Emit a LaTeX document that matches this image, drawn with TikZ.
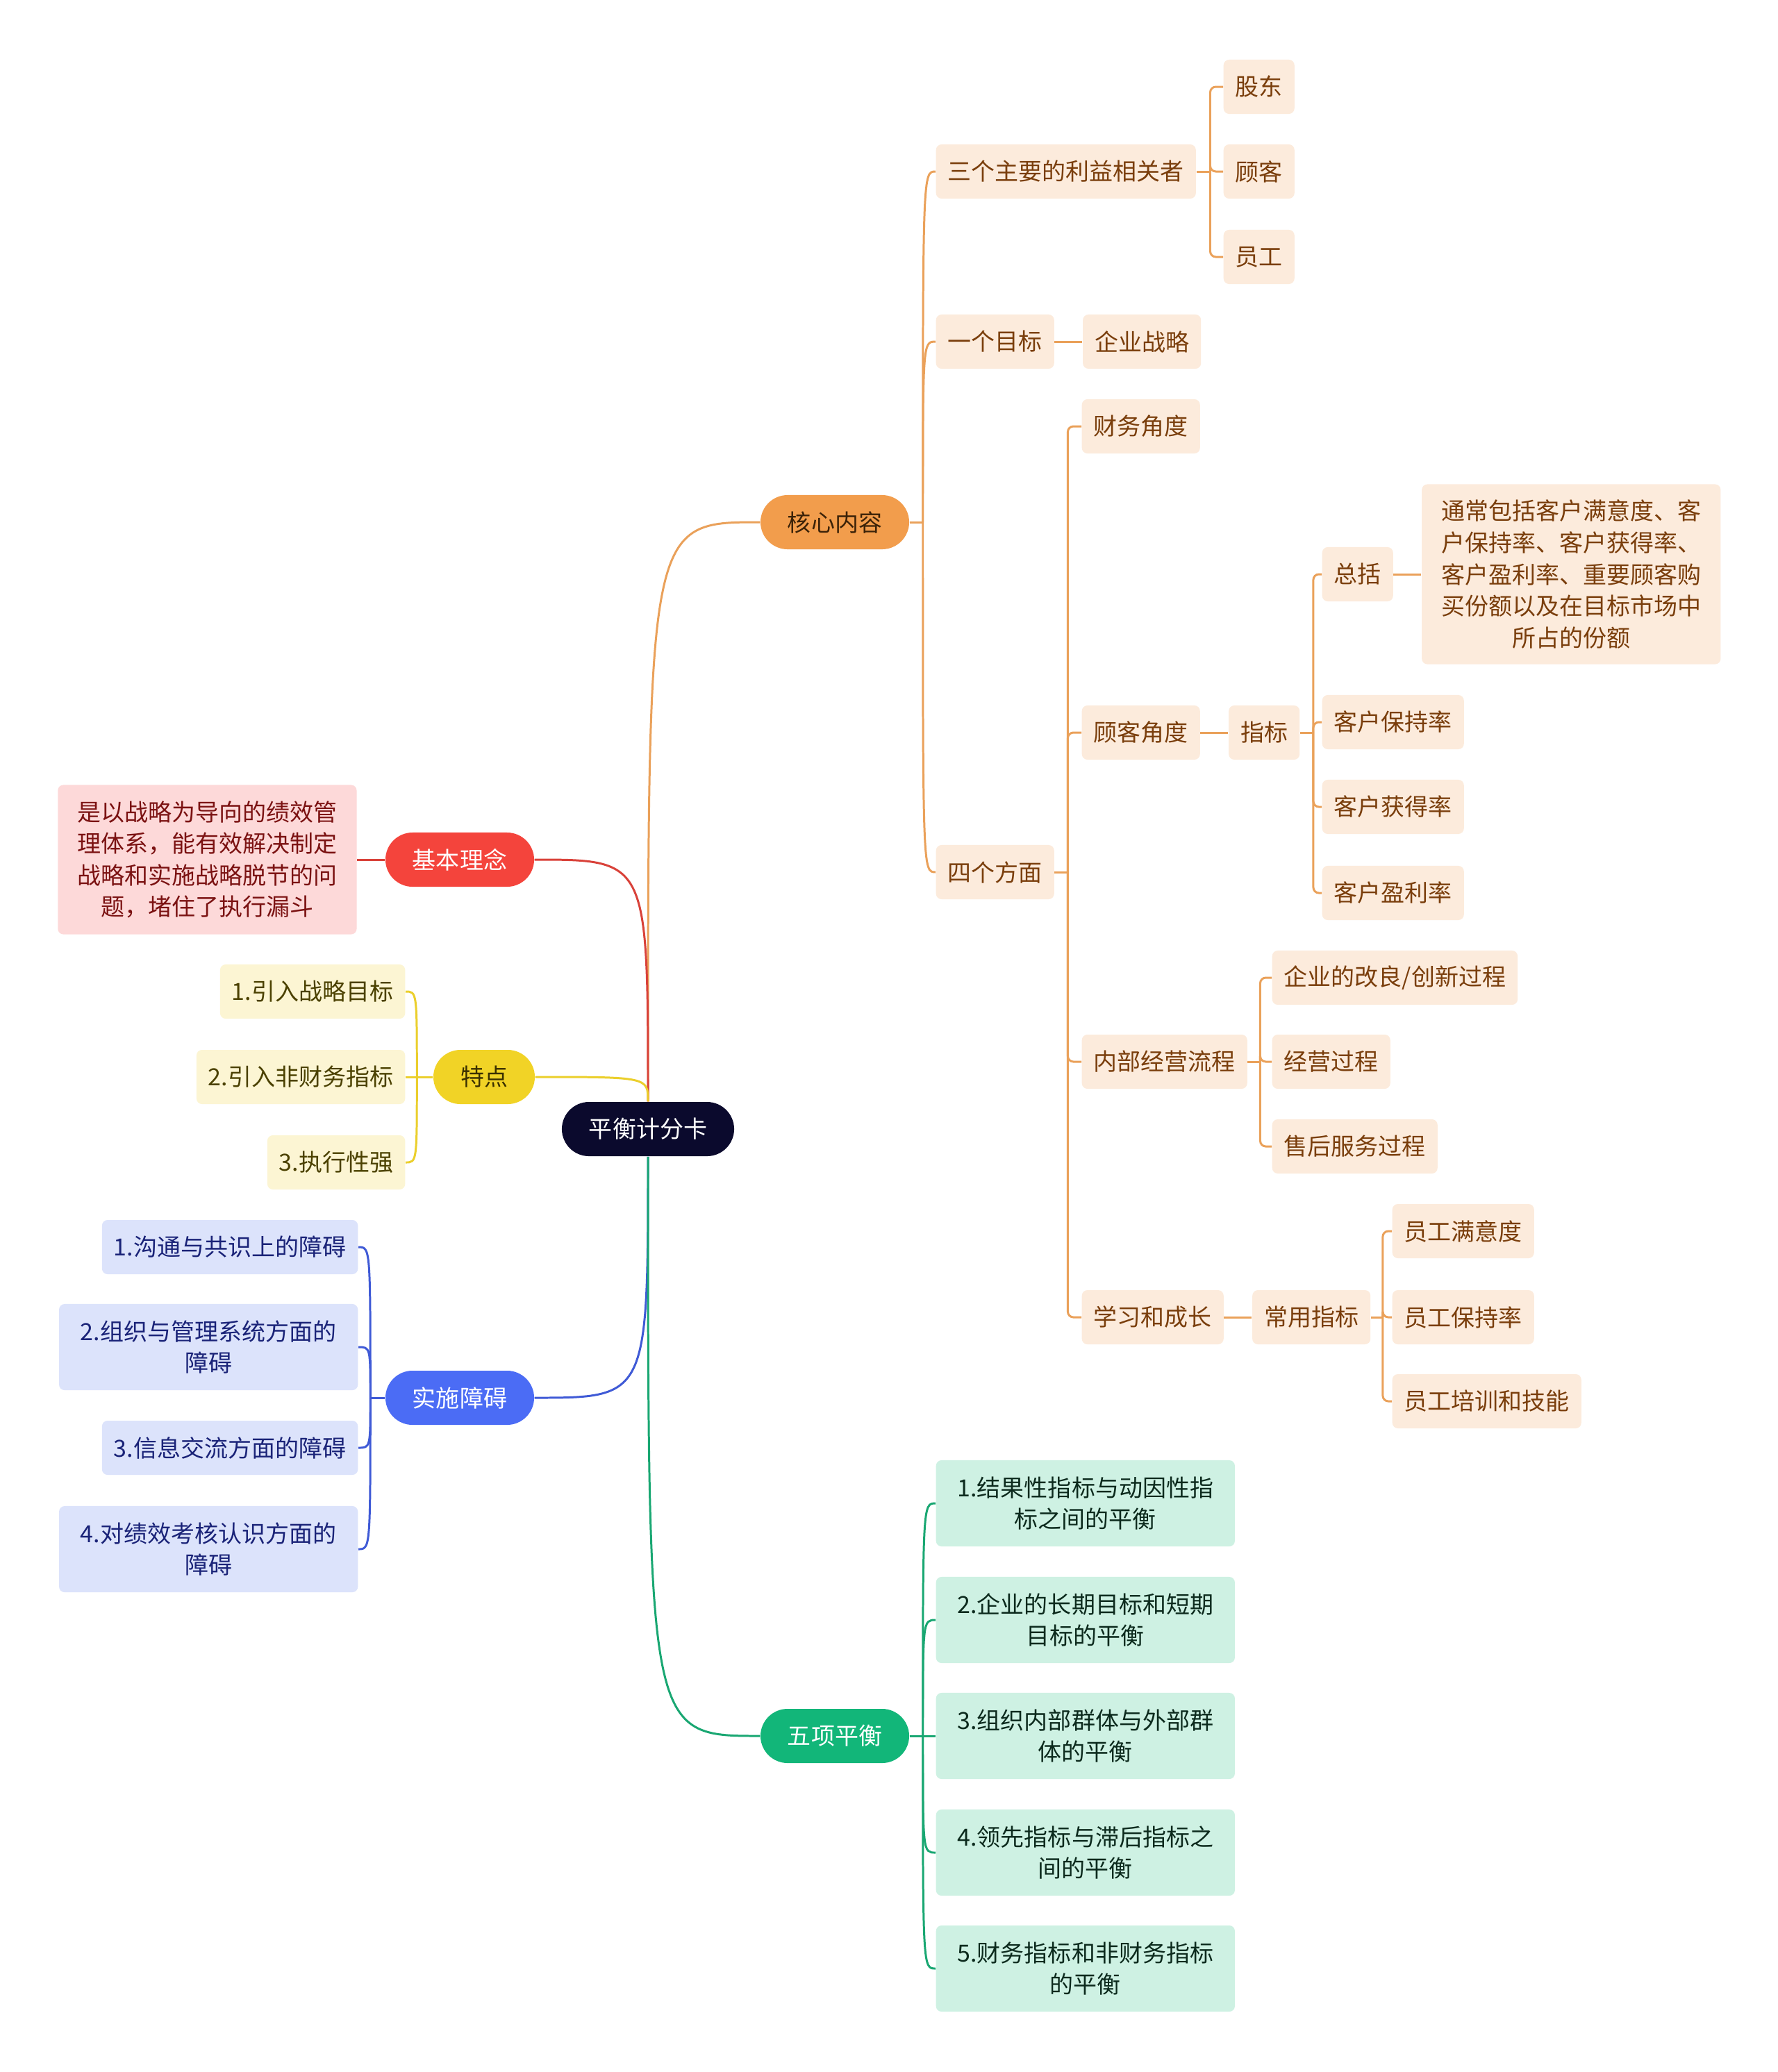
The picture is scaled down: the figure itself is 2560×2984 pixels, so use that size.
\documentclass[tikz,border=0pt]{standalone}
\usepackage{fontspec}
\usepackage{xcolor}
\usepackage{tikz}
\usetikzlibrary{positioning}

\newfontfamily\cjk{Noto Sans CJK SC}
\newcommand{\mapfont}{\cjk\fontsize{9.67pt}{12.95pt}\selectfont}

\definecolor{rootfill}{HTML}{0B0A2D}
\definecolor{orMain}{HTML}{F29D4C}
\definecolor{orDark}{HTML}{3B2208}
\definecolor{orLight}{HTML}{FCEBDC}
\definecolor{orText}{HTML}{7A3E0C}
\definecolor{orLine}{HTML}{EAA15A}
\definecolor{rdMain}{HTML}{F4443C}
\definecolor{rdLight}{HTML}{FDD9D9}
\definecolor{rdText}{HTML}{7B1212}
\definecolor{rdLine}{HTML}{D9423A}
\definecolor{ylMain}{HTML}{F1D326}
\definecolor{ylDark}{HTML}{3A3000}
\definecolor{ylLight}{HTML}{FCF5D3}
\definecolor{ylText}{HTML}{4B4100}
\definecolor{ylLine}{HTML}{EBCF2C}
\definecolor{blMain}{HTML}{4B6CF5}
\definecolor{blLight}{HTML}{DCE3FB}
\definecolor{blText}{HTML}{1A2378}
\definecolor{blLine}{HTML}{3F5AD6}
\definecolor{gnMain}{HTML}{12B679}
\definecolor{gnLight}{HTML}{CEF1E3}
\definecolor{gnText}{HTML}{0C2A1D}
\definecolor{gnLine}{HTML}{19A772}

\begin{document}
\begin{tikzpicture}[
    x=0.01cm, y=-0.01cm,
    node distance=0.4cm,
    pill/.style={rectangle, rounded corners=0.39cm, minimum height=0.78cm, inner xsep=0.39cm, inner ysep=0pt, font=\mapfont},
    topic/.style={rectangle, rounded corners=0.08cm, minimum height=0.78cm, inner xsep=0.17cm, inner ysep=0.1cm, align=center, font=\mapfont},
    para/.style={minimum width=4.3cm},
    orsub/.style={topic, fill=orLight, text=orText},
    rdsub/.style={topic, fill=rdLight, text=rdText},
    ylsub/.style={topic, fill=ylLight, text=ylText},
    blsub/.style={topic, fill=blLight, text=blText},
    gnsub/.style={topic, fill=gnLight, text=gnText},
    link/.style={line width=0.85pt},
    elbow/.style={line width=0.85pt, rounded corners=0.08cm}
]

\path[use as bounding box, fill=white] (0,0) rectangle (2560,2984);

% Nodes
\node[pill, fill=rootfill, text=white] (root) at (933,1626) {平衡计分卡};

\node[pill, fill=orMain, text=orDark] (core) at (1202,752) {核心内容};
\node[pill, fill=rdMain, text=white] (idea) at (662,1238) {基本理念};
\node[pill, fill=ylMain, text=ylDark] (feat) at (697,1551) {特点};
\node[pill, fill=blMain, text=white] (block) at (662,2013) {实施障碍};
\node[pill, fill=gnMain, text=white] (five) at (1202,2500) {五项平衡};

% core content
\node[orsub, anchor=west] (stake) at (1347,247) {三个主要的利益相关者};
\node[orsub, anchor=west] (holder) at (1761,125) {股东};
\node[orsub, anchor=west] (client) at (1761,247) {顾客};
\node[orsub, anchor=west] (staff) at (1761,370) {员工};
\node[orsub, anchor=west] (goal) at (1347,492) {一个目标};
\node[orsub, right=of goal] (strategy) {企业战略};
\node[orsub, anchor=west] (aspects) at (1347,1256) {四个方面};
\node[orsub, anchor=west] (finance) at (1557,614) {财务角度};
\node[orsub, anchor=west] (custview) at (1557,1055) {顾客角度};
\node[orsub, right=of custview] (custidx) {指标};
\node[orsub, anchor=west] (summary) at (1903,827) {总括};
\node[orsub, para, minimum height=2.59cm, right=of summary] (summtext) {通常包括客户满意度、客\\户保持率、客户获得率、\\客户盈利率、重要顾客购\\买份额以及在目标市场中\\所占的份额};
\node[orsub, anchor=west] (retain) at (1903,1040) {客户保持率};
\node[orsub, anchor=west] (acquire) at (1903,1162) {客户获得率};
\node[orsub, anchor=west] (profit) at (1903,1286) {客户盈利率};
\node[orsub, anchor=west] (process) at (1557,1529) {内部经营流程};
\node[orsub, anchor=west] (innov) at (1831,1408) {企业的改良/创新过程};
\node[orsub, anchor=west] (operate) at (1831,1529) {经营过程};
\node[orsub, anchor=west] (service) at (1831,1651) {售后服务过程};
\node[orsub, anchor=west] (growth) at (1557,1897) {学习和成长};
\node[orsub, right=of growth] (common) {常用指标};
\node[orsub, anchor=west] (satisf) at (2004,1773) {员工满意度};
\node[orsub, anchor=west] (keep) at (2004,1897) {员工保持率};
\node[orsub, anchor=west] (train) at (2004,2018) {员工培训和技能};

% basic idea
\node[rdsub, para, minimum height=2.15cm, left=of idea] (ideatext) {是以战略为导向的绩效管\\理体系，能有效解决制定\\战略和实施战略脱节的问\\题，堵住了执行漏斗};

% features
\node[ylsub, anchor=east] (feat1) at (584,1428) {1.引入战略目标};
\node[ylsub, anchor=east] (feat2) at (584,1551) {2.引入非财务指标};
\node[ylsub, anchor=east] (feat3) at (584,1674) {3.执行性强};

% obstacles
\node[blsub, anchor=east] (block1) at (516,1796) {1.沟通与共识上的障碍};
\node[blsub, para, minimum height=1.24cm, anchor=east] (block2) at (516,1940) {2.组织与管理系统方面的\\障碍};
\node[blsub, anchor=east] (block3) at (516,2085) {3.信息交流方面的障碍};
\node[blsub, para, minimum height=1.24cm, anchor=east] (block4) at (516,2231) {4.对绩效考核认识方面的\\障碍};

% five balances
\node[gnsub, para, minimum height=1.24cm, anchor=west] (bal1) at (1347,2165) {1.结果性指标与动因性指\\标之间的平衡};
\node[gnsub, para, minimum height=1.24cm, anchor=west] (bal2) at (1347,2333) {2.企业的长期目标和短期\\目标的平衡};
\node[gnsub, para, minimum height=1.24cm, anchor=west] (bal3) at (1347,2500) {3.组织内部群体与外部群\\体的平衡};
\node[gnsub, para, minimum height=1.24cm, anchor=west] (bal4) at (1347,2668) {4.领先指标与滞后指标之\\间的平衡};
\node[gnsub, para, minimum height=1.24cm, anchor=west] (bal5) at (1347,2835) {5.财务指标和非财务指标\\的平衡};

% Edges
\draw[link, orLine] (root.north) .. controls (root.north |- core.west) .. (core.west);
\draw[link, rdLine] (root.north) .. controls (root.north |- idea.east) .. (idea.east);
\draw[link, ylLine] (root.north) .. controls (root.north |- feat.east) .. (feat.east);
\draw[link, blLine] (root.south) .. controls (root.south |- block.east) .. (block.east);
\draw[link, gnLine] (root.south) .. controls (root.south |- five.west) .. (five.west);

\draw[link, orLine] (core.east) -- ++(19,0) coordinate (corej);
\foreach \kid in {stake, goal, aspects}
  \draw[link, orLine] (corej) .. controls (corej |- \kid.west) .. (\kid.west);

\draw[link, orLine] (stake.east) -- ++(20,0) coordinate (stakej);
\foreach \kid in {holder, client, staff}
  \draw[elbow, orLine] (stakej) |- (\kid.west);
\draw[link, orLine] (goal) -- (strategy);

\draw[link, orLine] (aspects.east) -- ++(19,0) coordinate (aspj);
\foreach \kid in {finance, custview, process, growth}
  \draw[elbow, orLine] (aspj) |- (\kid.west);
\draw[link, orLine] (custview) -- (custidx);
\draw[link, orLine] (custidx.east) -- ++(19,0) coordinate (idxj);
\foreach \kid in {summary, retain, acquire, profit}
  \draw[elbow, orLine] (idxj) |- (\kid.west);
\draw[link, orLine] (summary) -- (summtext);
\draw[link, orLine] (process.east) -- ++(18,0) coordinate (procj);
\foreach \kid in {innov, operate, service}
  \draw[elbow, orLine] (procj) |- (\kid.west);
\draw[link, orLine] (growth) -- (common);
\draw[link, orLine] (common.east) -- ++(17,0) coordinate (comj);
\foreach \kid in {satisf, keep, train}
  \draw[elbow, orLine] (comj) |- (\kid.west);

\draw[link, rdLine] (idea) -- (ideatext);

\draw[link, ylLine] (feat.west) -- ++(-23,0) coordinate (featj);
\foreach \kid in {feat1, feat2, feat3}
  \draw[link, ylLine] (featj) .. controls (featj |- \kid.east) .. (\kid.east);

\draw[link, blLine] (block.west) -- ++(-21,0) coordinate (blockj);
\foreach \kid in {block1, block2, block3, block4}
  \draw[link, blLine] (blockj) .. controls (blockj |- \kid.east) .. (\kid.east);

\draw[link, gnLine] (five.east) -- ++(19,0) coordinate (fivej);
\foreach \kid in {bal1, bal2, bal3, bal4, bal5}
  \draw[link, gnLine] (fivej) .. controls (fivej |- \kid.west) .. (\kid.west);

\end{tikzpicture}
\end{document}
